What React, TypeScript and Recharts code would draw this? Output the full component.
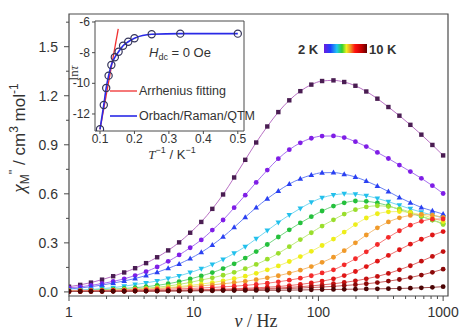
import { LineChart, Line, XAxis, YAxis, ReferenceArea } from "recharts";

// ── Data ─────────────────────────────────────────────────────────────

const FREQ = [
  1, 1.23, 1.5, 1.84, 2.26, 2.77, 3.39, 4.15, 5.09, 6.24, 7.64, 9.37, 11.5, 14.1, 17.2, 21.1, 25.9, 31.7,
  38.9, 47.7, 58.4, 71.6, 87.7, 107, 132, 161, 198, 242, 297, 364, 446, 546, 669, 820, 1000,
];

const CHI_2K = [
  0.032, 0.043, 0.057, 0.075, 0.096, 0.119, 0.145, 0.176, 0.212, 0.254, 0.303, 0.362, 0.428, 0.508, 0.596,
  0.7, 0.808, 0.914, 1.012, 1.1, 1.172, 1.228, 1.268, 1.29, 1.294, 1.284, 1.261, 1.226, 1.182, 1.131, 1.078,
  1.022, 0.962, 0.899, 0.835,
];
const CHI_3K = [
  0.025, 0.031, 0.04, 0.051, 0.064, 0.08, 0.1, 0.124, 0.153, 0.187, 0.226, 0.27, 0.318, 0.378, 0.44, 0.515,
  0.592, 0.67, 0.745, 0.815, 0.87, 0.912, 0.94, 0.953, 0.954, 0.944, 0.919, 0.889, 0.853, 0.816, 0.776,
  0.736, 0.695, 0.65, 0.602,
];
const CHI_4K = [
  0.018, 0.024, 0.032, 0.042, 0.054, 0.067, 0.082, 0.1, 0.12, 0.144, 0.171, 0.204, 0.242, 0.287, 0.337,
  0.395, 0.457, 0.516, 0.57, 0.618, 0.66, 0.692, 0.715, 0.729, 0.73, 0.72, 0.703, 0.678, 0.648, 0.614, 0.578,
  0.546, 0.517, 0.496, 0.476,
];
const CHI_5K = [
  0.01, 0.012, 0.015, 0.02, 0.026, 0.035, 0.045, 0.055, 0.067, 0.082, 0.098, 0.118, 0.141, 0.168, 0.199,
  0.236, 0.277, 0.325, 0.375, 0.425, 0.47, 0.511, 0.548, 0.576, 0.593, 0.6, 0.598, 0.588, 0.572, 0.552, 0.53,
  0.508, 0.488, 0.47, 0.452,
];
const CHI_5_5K = [
  0.007, 0.009, 0.011, 0.014, 0.017, 0.021, 0.026, 0.032, 0.04, 0.05, 0.063, 0.079, 0.098, 0.118, 0.143,
  0.172, 0.207, 0.247, 0.29, 0.336, 0.38, 0.422, 0.46, 0.495, 0.525, 0.545, 0.556, 0.554, 0.544, 0.527,
  0.503, 0.482, 0.461, 0.44, 0.418,
];
const CHI_6K = [
  0.005, 0.006, 0.008, 0.01, 0.012, 0.015, 0.018, 0.023, 0.029, 0.036, 0.046, 0.058, 0.073, 0.086, 0.102,
  0.12, 0.142, 0.168, 0.2, 0.236, 0.277, 0.32, 0.362, 0.403, 0.441, 0.476, 0.503, 0.52, 0.527, 0.522, 0.508,
  0.488, 0.463, 0.44, 0.412,
];
const CHI_6_5K = [
  0.004, 0.005, 0.006, 0.008, 0.009, 0.011, 0.014, 0.017, 0.021, 0.027, 0.033, 0.04, 0.048, 0.057, 0.068,
  0.081, 0.096, 0.114, 0.135, 0.159, 0.186, 0.216, 0.248, 0.284, 0.323, 0.366, 0.412, 0.452, 0.478, 0.49,
  0.492, 0.485, 0.472, 0.452, 0.43,
];
const CHI_7K = [
  0.006, 0.007, 0.008, 0.009, 0.011, 0.013, 0.015, 0.018, 0.021, 0.024, 0.028, 0.032, 0.037, 0.043, 0.05,
  0.057, 0.065, 0.075, 0.086, 0.099, 0.115, 0.133, 0.155, 0.181, 0.212, 0.252, 0.3, 0.348, 0.392, 0.428,
  0.453, 0.468, 0.474, 0.469, 0.456,
];
const CHI_7_5K = [
  0.005, 0.006, 0.007, 0.008, 0.009, 0.01, 0.012, 0.013, 0.015, 0.017, 0.019, 0.021, 0.024, 0.027, 0.031,
  0.035, 0.04, 0.046, 0.053, 0.062, 0.072, 0.084, 0.099, 0.116, 0.135, 0.166, 0.203, 0.245, 0.29, 0.334,
  0.374, 0.408, 0.432, 0.445, 0.446,
];
const CHI_8K = [
  0.004, 0.004, 0.005, 0.005, 0.006, 0.006, 0.007, 0.008, 0.009, 0.01, 0.011, 0.012, 0.014, 0.015, 0.017,
  0.019, 0.022, 0.025, 0.029, 0.033, 0.039, 0.046, 0.055, 0.066, 0.08, 0.1, 0.125, 0.155, 0.188, 0.223,
  0.258, 0.292, 0.322, 0.348, 0.369,
];
const CHI_8_5K = [
  0.003, 0.003, 0.004, 0.004, 0.005, 0.005, 0.006, 0.006, 0.007, 0.008, 0.009, 0.01, 0.011, 0.012, 0.013,
  0.015, 0.017, 0.019, 0.021, 0.024, 0.028, 0.032, 0.037, 0.043, 0.05, 0.058, 0.068, 0.08, 0.095, 0.113,
  0.135, 0.16, 0.188, 0.217, 0.247,
];
const CHI_9K = [
  0.002, 0.003, 0.003, 0.003, 0.004, 0.004, 0.005, 0.005, 0.006, 0.006, 0.007, 0.008, 0.009, 0.01, 0.011,
  0.012, 0.013, 0.015, 0.017, 0.019, 0.021, 0.024, 0.027, 0.03, 0.034, 0.039, 0.044, 0.05, 0.057, 0.066,
  0.076, 0.088, 0.103, 0.12, 0.139,
];
const CHI_10K = [
  0.003, 0.003, 0.003, 0.004, 0.004, 0.004, 0.005, 0.005, 0.005, 0.006, 0.006, 0.006, 0.007, 0.007, 0.008,
  0.008, 0.009, 0.009, 0.01, 0.01, 0.011, 0.012, 0.013, 0.014, 0.015, 0.016, 0.017, 0.018, 0.019, 0.02,
  0.021, 0.023, 0.025, 0.028, 0.032,
];

// inset: relaxation times
const INV_T = [0.1, 0.111, 0.118, 0.125, 0.133, 0.143, 0.154, 0.167, 0.182, 0.2, 0.25, 0.333, 0.5];
const LN_TAU = [-13.0, -11.41, -10.3, -9.5, -8.8, -8.3, -7.94, -7.55, -7.29, -7.06, -6.8, -6.76, -6.76];
const ARR_X = [0.1, 0.153];
const ARR_Y = [-13.0, -6.45];

const X_MAJOR = [1, 10, 100, 1000];
const X_MINOR = [2, 3, 4, 5, 6, 7, 8, 9, 20, 30, 40, 50, 60, 70, 80, 90, 200, 300, 400, 500, 600, 700, 800, 900];
const Y_MAJOR = [0, 0.3, 0.6, 0.9, 1.2, 1.5];
const Y_MINOR = [0.15, 0.45, 0.75, 1.05, 1.35, 1.65];
const INSET_X_TICKS = [0.1, 0.2, 0.3, 0.4, 0.5];
const INSET_Y_TICKS = [-12, -10, -8, -6];

// ── Series styles ────────────────────────────────────────────────────

type Shape = "square" | "circle" | "up" | "down";

const SERIES: { key: string; values: number[]; color: string; line: string; shape: Shape }[] = [
  { key: "t2", values: CHI_2K, color: "#4a1d52", line: "#b870c4", shape: "square" },
  { key: "t3", values: CHI_3K, color: "#7f1ee6", line: "#a870f0", shape: "circle" },
  { key: "t4", values: CHI_4K, color: "#2a40f2", line: "#6a82f4", shape: "up" },
  { key: "t5", values: CHI_5K, color: "#22c0ec", line: "#76d8f2", shape: "down" },
  { key: "t55", values: CHI_5_5K, color: "#24c03c", line: "#74d682", shape: "circle" },
  { key: "t6", values: CHI_6K, color: "#9ade2c", line: "#c0ea80", shape: "circle" },
  { key: "t65", values: CHI_6_5K, color: "#eeee1a", line: "#f2f27a", shape: "circle" },
  { key: "t7", values: CHI_7K, color: "#f09a2a", line: "#f4be78", shape: "circle" },
  { key: "t75", values: CHI_7_5K, color: "#f42a2a", line: "#f67a7a", shape: "circle" },
  { key: "t8", values: CHI_8K, color: "#e01616", line: "#ee7070", shape: "circle" },
  { key: "t85", values: CHI_8_5K, color: "#c41010", line: "#e06a6a", shape: "circle" },
  { key: "t9", values: CHI_9K, color: "#8a0808", line: "#c86060", shape: "circle" },
  { key: "t10", values: CHI_10K, color: "#4a0404", line: "#a05050", shape: "circle" },
];

const mainData = FREQ.map((f, i) => {
  const row: Record<string, number> = { f };
  SERIES.forEach((s) => (row[s.key] = s.values[i]));
  return row;
});
const tauData = INV_T.map((x, i) => ({ x, y: LN_TAU[i] }));
const arrData = ARR_X.map((x, i) => ({ x, y: ARR_Y[i] }));

const SANS = "'Liberation Sans', Arial, sans-serif";
const SERIF = "'Liberation Serif', 'Times New Roman', serif";
const AXIS = "#4a4a4a";
const TEXT = "#333";

// ── Dots & ticks ─────────────────────────────────────────────────────

function makeDot(shape: Shape, fill: string) {
  return (p: any) => {
    const { cx, cy, index } = p;
    if (cx == null || cy == null) return <g key={index} />;
    if (shape === "square")
      return <rect key={index} x={cx - 2.2} y={cy - 2.2} width={4.4} height={4.4} fill={fill} />;
    if (shape === "up")
      return <path key={index} d={`M${cx},${cy - 3}L${cx + 2.8},${cy + 2}L${cx - 2.8},${cy + 2}Z`} fill={fill} />;
    if (shape === "down")
      return <path key={index} d={`M${cx},${cy + 3}L${cx + 2.8},${cy - 2}L${cx - 2.8},${cy - 2}Z`} fill={fill} />;
    return <circle key={index} cx={cx} cy={cy} r={2.4} fill={fill} />;
  };
}

function XTick({ x, y, payload }: any) {
  const major = X_MAJOR.includes(payload.value);
  return (
    <g>
      <line x1={x} x2={x} y1={y} y2={y + (major ? 5 : 3)} stroke={AXIS} />
      {major && (
        <text x={x} y={y + 21} textAnchor="middle" fontSize={14} fill={TEXT} fontFamily={SANS}>
          {payload.value}
        </text>
      )}
    </g>
  );
}

function YTick({ x, y, payload }: any) {
  const major = Y_MAJOR.includes(payload.value);
  return (
    <g>
      <line x1={x - (major ? 5 : 3)} x2={x} y1={y} y2={y} stroke={AXIS} />
      {major && (
        <text x={x - 11} y={y + 5} textAnchor="end" fontSize={14} fill={TEXT} fontFamily={SANS}>
          {payload.value.toFixed(1)}
        </text>
      )}
    </g>
  );
}

function InsetXTick({ x, y, payload }: any) {
  return (
    <g>
      <line x1={x} x2={x} y1={y} y2={y + 3} stroke={AXIS} />
      <text x={x} y={y + 12} textAnchor="middle" fontSize={12} fill={TEXT} fontFamily={SANS}>
        {payload.value}
      </text>
    </g>
  );
}

function InsetYTick({ x, y, payload }: any) {
  return (
    <g>
      <line x1={x - 3} x2={x} y1={y} y2={y} stroke={AXIS} />
      <text x={x - 5} y={y + 4} textAnchor="end" fontSize={12} fill={TEXT} fontFamily={SANS}>
        {payload.value}
      </text>
    </g>
  );
}

const openCircle = (p: any) =>
  p.cx == null ? (
    <g key={p.index} />
  ) : (
    <circle key={p.index} cx={p.cx} cy={p.cy} r={3.6} fill="none" stroke="#34345a" strokeWidth={1.2} />
  );

// ── Component ────────────────────────────────────────────────────────

export default function App() {
  return (
    <div style={{ position: "absolute", left: 0, top: 0, width: 461, height: 331, background: "#fff" }}>
      <LineChart width={461} height={331} data={mainData} margin={{ top: 14, right: 13, bottom: 0, left: 0 }}>
        <XAxis
          dataKey="f"
          type="number"
          scale="log"
          domain={[1, 1094]}
          allowDataOverflow
          ticks={[...X_MAJOR, ...X_MINOR]}
          interval={0}
          tickSize={0}
          tickMargin={0}
          tickLine={false}
          axisLine={false}
          tick={<XTick />}
          height={35}
        />
        <YAxis
          type="number"
          domain={[-0.025, 1.7]}
          allowDataOverflow
          ticks={[...Y_MAJOR, ...Y_MINOR]}
          interval={0}
          tickSize={0}
          tickMargin={0}
          tickLine={false}
          axisLine={false}
          tick={<YTick />}
          width={69}
        />
        <ReferenceArea x1={1} x2={1094} y1={-0.025} y2={1.7} fill="none" stroke={AXIS} strokeWidth={1.2} fillOpacity={0} />
        {SERIES.map((s) => (
          <Line
            key={s.key}
            dataKey={s.key}
            type="monotone"
            stroke={s.line}
            strokeWidth={1}
            dot={makeDot(s.shape, s.color)}
            activeDot={false}
            isAnimationActive={false}
          />
        ))}
      </LineChart>

      <div style={{ position: "absolute", left: 60, top: 10 }}>
        <LineChart width={195} height={160} margin={{ top: 11, right: 11, bottom: 0, left: 0 }}>
          <XAxis
            dataKey="x"
            type="number"
            domain={[0.0855, 0.518]}
            allowDataOverflow
            ticks={INSET_X_TICKS}
            interval={0}
            tickSize={0}
            tickMargin={0}
            tickLine={false}
            axisLine={false}
            tick={<InsetXTick />}
            height={39}
          />
          <YAxis
            type="number"
            domain={[-13.11, -5.935]}
            allowDataOverflow
            ticks={INSET_Y_TICKS}
            interval={0}
            tickSize={0}
            tickMargin={0}
            tickLine={false}
            axisLine={false}
            tick={<InsetYTick />}
            width={35}
          />
          <ReferenceArea x1={0.0855} x2={0.518} y1={-13.11} y2={-5.935} fill="#fff" fillOpacity={1} stroke={AXIS} />
          <Line data={arrData} dataKey="y" type="linear" stroke="#f03030" strokeWidth={1.3} dot={false} isAnimationActive={false} />
          <Line
            data={tauData}
            dataKey="y"
            type="monotone"
            stroke="#2a2ae6"
            strokeWidth={1.6}
            dot={openCircle}
            activeDot={false}
            isAnimationActive={false}
          />
        </LineChart>
      </div>

      <svg width={461} height={331} style={{ position: "absolute", left: 0, top: 0, pointerEvents: "none" }}>
        <defs>
          <linearGradient id="tempBar" x1="0" x2="1" y1="0" y2="0">
            <stop offset="0" stopColor="#6a1ee0" />
            <stop offset="0.15" stopColor="#2040ff" />
            <stop offset="0.3" stopColor="#20c8f0" />
            <stop offset="0.42" stopColor="#30d030" />
            <stop offset="0.52" stopColor="#f0f020" />
            <stop offset="0.62" stopColor="#f09020" />
            <stop offset="0.72" stopColor="#ff1010" />
            <stop offset="0.88" stopColor="#c00000" />
            <stop offset="1" stopColor="#600000" />
          </linearGradient>
        </defs>

        {/* temperature colour bar */}
        <text x={298} y={54} fontSize={13} fontWeight="bold" fill={TEXT} fontFamily={SANS}>2 K</text>
        <rect x={324} y={44} width={43} height={9} fill="url(#tempBar)" />
        <text x={369} y={54} fontSize={13} fontWeight="bold" fill={TEXT} fontFamily={SANS}>10 K</text>

        {/* inset annotations */}
        <text x={149} y={57} fontSize={13} fill={TEXT} fontFamily={SANS}>
          <tspan fontStyle="italic">H</tspan>
          <tspan fontSize={9} dy={3}>dc</tspan>
          <tspan dy={-3}> = 0 Oe</tspan>
        </text>
        <line x1={110} x2={137} y1={91} y2={91} stroke="#f03030" strokeWidth={1.3} />
        <text x={139} y={95} fontSize={12.5} fill={TEXT} fontFamily={SANS}>Arrhenius fitting</text>
        <line x1={110} x2={137} y1={116} y2={116} stroke="#2a2ae6" strokeWidth={1.6} />
        <text x={139} y={120} fontSize={12.5} fill={TEXT} fontFamily={SANS}>Orbach/Raman/QTM</text>
        <text transform="translate(78,73) rotate(-90)" textAnchor="middle" fontSize={13} fill={TEXT} fontFamily={SERIF}>
          ln<tspan fontStyle="italic">τ</tspan>
        </text>
        <text x={172} y={159} textAnchor="middle" fontSize={13} fill={TEXT} fontFamily={SANS}>
          <tspan fontStyle="italic" fontFamily={SERIF}>T</tspan>
          <tspan fontSize={9} dy={-6}>−1</tspan>
          <tspan dy={6}> / K</tspan>
          <tspan fontSize={9} dy={-6}>−1</tspan>
        </text>

        {/* main axis titles */}
        <text transform="translate(25,138) rotate(-90)" textAnchor="middle" fontSize={17} fill={TEXT} fontFamily={SANS}>
          <tspan fontStyle="italic" fontFamily={SERIF} fontSize={19}>χ</tspan>
          <tspan fontSize={12} dy={4}>M</tspan>
          <tspan fontSize={12} dy={-11}>''</tspan>
          <tspan dy={7}> / cm</tspan>
          <tspan fontSize={12} dy={-7}>3</tspan>
          <tspan dy={7}> mol</tspan>
          <tspan fontSize={12} dy={-7}>-1</tspan>
        </text>
        <text x={256} y={327} textAnchor="middle" fontSize={18} fill={TEXT} fontFamily={SERIF}>
          <tspan fontStyle="italic">ν</tspan> / Hz
        </text>
      </svg>
    </div>
  );
}
